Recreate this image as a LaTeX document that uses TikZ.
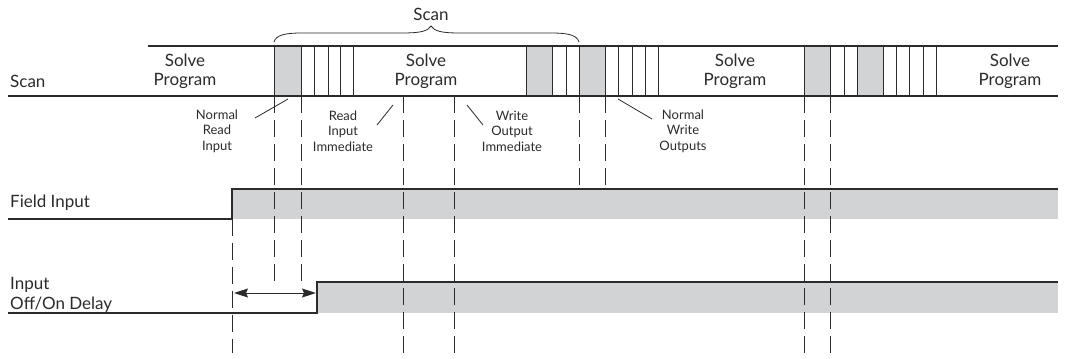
\documentclass[tikz,border=0pt]{standalone}
\usepackage{fontspec}
\setmainfont{Lato}
\usetikzlibrary{arrows.meta}
\definecolor{fillgray}{HTML}{D1D3D4}
\definecolor{ink}{HTML}{2B2B2B}
\begin{document}
\begin{tikzpicture}[x=1pt,y=-1pt,
  bigtext/.style={font=\fontsize{17}{19}\selectfont,text=ink,inner sep=0pt,align=center},
  lefttext/.style={font=\fontsize{17}{20}\selectfont,text=ink,inner sep=0pt,anchor=west,align=left},
  smalltext/.style={font=\fontsize{13}{15.5}\selectfont,text=ink,inner sep=0pt,align=center},
  barline/.style={draw=ink,line width=1.2pt},
  cellline/.style={draw=ink,line width=0.9pt},
  graycell/.style={fill=fillgray},
  dashline/.style={draw=ink,line width=0.9pt,dash pattern=on 17pt off 7pt},
  leader/.style={draw=ink,line width=0.8pt},
  sigline/.style={draw=ink,line width=1.2pt}]
\useasboundingbox (0,0) rectangle (1077,359);

% gray cells of the scan bar
\foreach \a/\b in {274/301,526/552,579/605,804/830,857/883}
  \fill[graycell] (\a,46) rectangle (\b,96);
% cell separators
\foreach \x in {274,301,314,328,340,353,526,552,566,579,605,618,632,645,658,804,830,844,857,883,896,909,923,936}
  \draw[cellline] (\x,46) -- (\x,96);
% scan bar
\coordinate (bartopL) at (148,46);
\coordinate (bartopR) at (1058,46);
\coordinate (barbotL) at (8,96);
\coordinate (barbotR) at (1058,96);
\draw[barline] (bartopL) -- (bartopR);
\draw[barline] (barbotL) -- (barbotR);

% texts in the scan bar
\node[lefttext] (scanlbl) at (10,81) {Scan};
\node[bigtext] (sp1) at (185,71) {Solve\\Program};
\node[bigtext] (sp2) at (426,71) {Solve\\Program};
\node[bigtext] (sp3) at (735,71) {Solve\\Program};
\node[bigtext] (sp4) at (1010,71) {Solve\\Program};

% brace
\coordinate (brL) at (274,42);
\coordinate (brR) at (579,42);
\coordinate (brTip) at (431,26);
\draw[leader] (brL) .. controls (276,35) and (285,33) .. (302,33) -- (402,33)
  .. controls (421,33) and (428,31) .. (brTip)
  .. controls (434,31) and (441,33) .. (460,33) -- (551,33)
  .. controls (568,33) and (577,35) .. (brR);
\node[bigtext] (scantop) at (431,14) {Scan};

% small labels
\node[smalltext] (nri) at (217,131) {Normal\\Read\\Input};
\node[smalltext] (rii) at (343,131) {Read\\Input\\Immediate};
\node[smalltext] (woi) at (512,131) {Write\\Output\\Immediate};
\node[smalltext] (nwo) at (683,131) {Normal\\Write\\Outputs};
\coordinate (nriA) at (255,118); \coordinate (nriB) at (288,99);
\coordinate (riiA) at (377,125); \coordinate (riiB) at (393,105);
\coordinate (woiA) at (483,125); \coordinate (woiB) at (467,105);
\coordinate (nwoA) at (652,119); \coordinate (nwoB) at (618,99);
\draw[leader] (nriA) -- (nriB);
\draw[leader] (riiA) -- (riiB);
\draw[leader] (woiA) -- (woiB);
\draw[leader] (nwoA) -- (nwoB);

% field input signal
\fill[graycell] (232,189) rectangle (1058,219);
\coordinate (fiL) at (8,219);
\coordinate (fiLow) at (232,219);
\coordinate (fiHigh) at (232,189);
\coordinate (fiR) at (1058,189);
\draw[sigline] (fiL) -- (fiLow) -- (fiHigh) -- (fiR);
\node[lefttext] (filbl) at (10,203) {Field Input};

% input delay signal
\fill[graycell] (317,282) rectangle (1058,313);
\coordinate (dlL) at (8,313);
\coordinate (dlLow) at (317,313);
\coordinate (dlHigh) at (317,282);
\coordinate (dlR) at (1058,282);
\draw[sigline] (dlL) -- (dlLow) -- (dlHigh) -- (dlR);
\node[lefttext] (dllbl1) at (10,285) {Input};
\node[lefttext] (dllbl2) at (10,305) {Off/On Delay};

% delay arrow
\coordinate (arL) at (234,293);
\coordinate (arR) at (316,293);
\draw[draw=ink,line width=1pt,{Stealth[length=14pt,width=9pt,inset=2pt]}-{Stealth[length=14pt,width=9pt,inset=2pt]}] (arL) -- (arR);

% dashed guide lines
\foreach \x/\ya/\yb in {232/219/353, 274/96/282, 301/96/282, 403/96/355, 454/96/355, 579/96/189, 605/96/189, 804/96/355, 830/96/355}
  \draw[dashline] (\x,\ya) -- (\x,\yb);
\end{tikzpicture}
\end{document}
